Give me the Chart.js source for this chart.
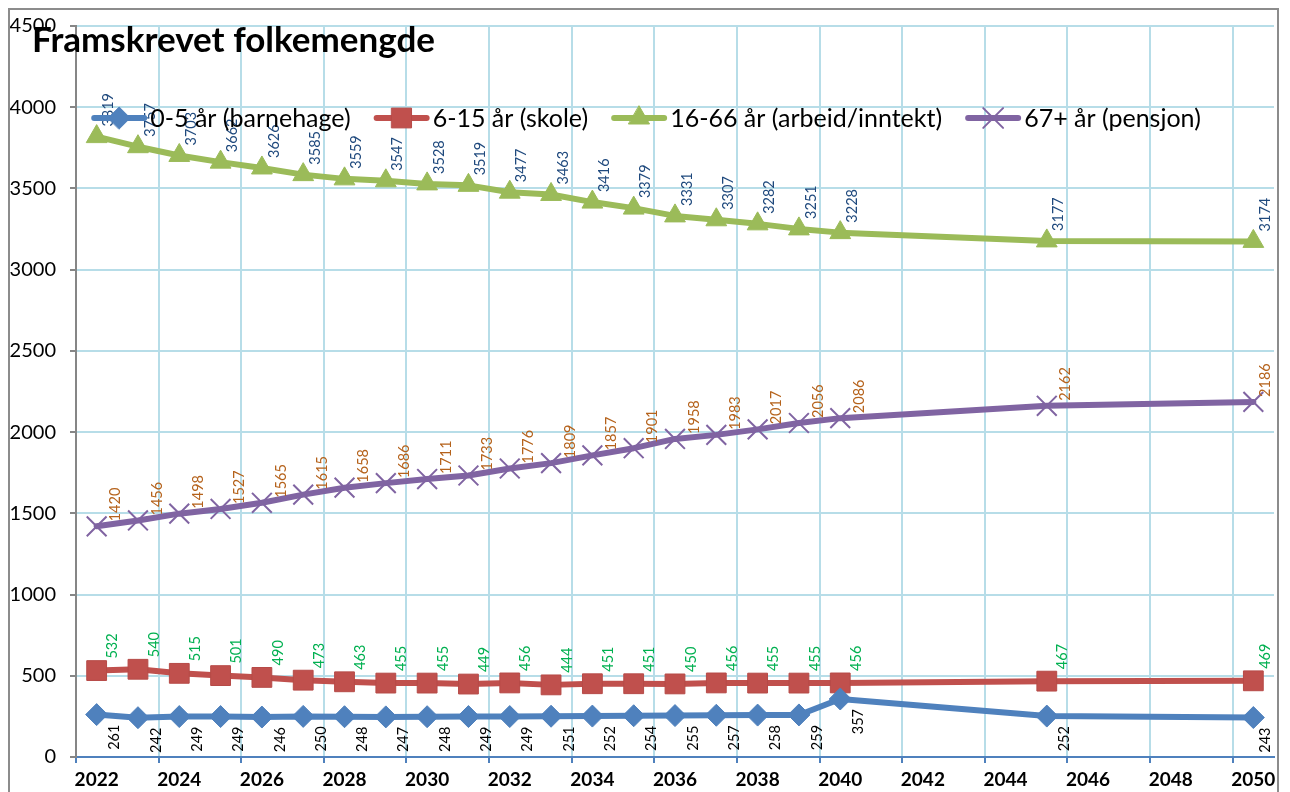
<!DOCTYPE html>
<html>
<head>
<meta charset="utf-8">
<title>Framskrevet folkemengde</title>
<script src="https://cdn.jsdelivr.net/npm/chart.js@4.4.1/dist/chart.umd.min.js"></script>
<style>
  html, body { margin: 0; padding: 0; background: #fff; }
  #wrap { position: relative; width: 1290px; height: 792px; }
</style>
</head>
<body>
<div id="wrap"><canvas id="popChart" width="1290" height="792"></canvas></div>
<script>
// x axis categories (every year, label on every second one)
const axisYears = ['2022', '2023', '2024', '2025', '2026', '2027', '2028', '2029', '2030', '2031',
  '2032', '2033', '2034', '2035', '2036', '2037', '2038', '2039', '2040', '2041',
  '2042', '2043', '2044', '2045', '2046', '2047', '2048', '2049', '2050'];

// years that have data
const years = ['2022', '2023', '2024', '2025', '2026', '2027', '2028', '2029', '2030', '2031',
  '2032', '2033', '2034', '2035', '2036', '2037', '2038', '2039', '2040', '2045', '2050'];

const barnehage = [261, 242, 249, 249, 246, 250, 248, 247, 248, 249, 249, 251, 252, 254, 255, 257, 258, 259, 357, 252, 243];
const skole = [532, 540, 515, 501, 490, 473, 463, 455, 455, 449, 456, 444, 451, 451, 450, 456, 455, 455, 456, 467, 469];
const arbeid = [3819, 3757, 3703, 3662, 3626, 3585, 3559, 3547, 3528, 3519, 3477, 3463, 3416, 3379, 3331, 3307, 3282, 3251, 3228, 3177, 3174];
const pensjon = [1420, 1456, 1498, 1527, 1565, 1615, 1658, 1686, 1711, 1733, 1776, 1809, 1857, 1901, 1958, 1983, 2017, 2056, 2086, 2162, 2186];

const seriesNames = ['0-5 år (barnehage)', '6-15 år (skole)', '16-66 år (arbeid/inntekt)', '67+ år (pensjon)'];
const chartTitle = 'Framskrevet folkemengde';

const yMin = 0;
const yMax = 4500;
const yStep = 500;

const GRID = '#b7dde8';
const FONT = 'Lato, "Open Sans", sans-serif';

function toPoints(values) {
  return years.map((y, i) => ({ x: y, y: values[i] }));
}

const datasets = [
  {
    label: seriesNames[0],
    data: toPoints(barnehage),
    borderColor: '#4f81bd',
    backgroundColor: '#4f81bd',
    pointStyle: 'rectRot',
    pointRadius: 11,
    pointBorderWidth: 1,
    labelColor: '#000000',
    labelDx: 18,
    labelDy: 10,
    labelBelow: true
  },
  {
    label: seriesNames[1],
    data: toPoints(skole),
    borderColor: '#c0504d',
    backgroundColor: '#c0504d',
    pointBorderColor: '#b64a47',
    pointStyle: 'rect',
    pointRadius: 14,
    pointBorderWidth: 1,
    labelColor: '#00b050',
    labelDx: 16,
    labelDy: -12
  },
  {
    label: seriesNames[2],
    data: toPoints(arbeid),
    borderColor: '#9bbb59',
    backgroundColor: '#9bbb59',
    pointStyle: 'triangle',
    pointRadius: 12,
    pointBorderWidth: 1,
    labelColor: '#1f497d',
    labelDx: 12,
    labelDy: -10
  },
  {
    label: seriesNames[3],
    data: toPoints(pensjon),
    borderColor: '#8064a2',
    backgroundColor: '#8064a2',
    pointStyle: 'crossRot',
    pointRadius: 14,
    pointBorderWidth: 2,
    labelColor: '#b5621b',
    labelDx: 19,
    labelDy: -5
  }
];

datasets.forEach(ds => {
  ds.borderWidth = 6;
  ds.tension = 0;
  ds.fill = false;
  ds.borderJoinStyle = 'round';
  ds.borderCapStyle = 'round';
  ds.pointHoverRadius = ds.pointRadius;
});

// vertical value labels next to every point, kept inside the plot
const pointLabels = {
  id: 'pointLabels',
  afterDatasetsDraw(chart) {
    const ctx = chart.ctx;
    const maxX = chart.chartArea.right - 9;
    chart.data.datasets.forEach((ds, di) => {
      const meta = chart.getDatasetMeta(di);
      ctx.save();
      ctx.font = '14.5px ' + FONT;
      ctx.fillStyle = ds.labelColor;
      ctx.textBaseline = 'middle';
      ctx.textAlign = ds.labelBelow ? 'right' : 'left';
      meta.data.forEach((pt, i) => {
        ctx.save();
        ctx.translate(Math.min(pt.x + ds.labelDx, maxX), pt.y + ds.labelDy);
        ctx.rotate(-Math.PI / 2);
        ctx.fillText(String(ds.data[i].y), 0, 0);
        ctx.restore();
      });
      ctx.restore();
    });
  }
};

const frameTitleLegend = {
  id: 'frameTitleLegend',
  beforeDraw(chart) {
    const ctx = chart.ctx;
    ctx.save();
    ctx.fillStyle = '#ffffff';
    ctx.fillRect(0, 0, chart.width, chart.height);
    ctx.restore();
  },
  afterDraw(chart) {
    const ctx = chart.ctx;
    ctx.save();

    // outer frame
    ctx.strokeStyle = '#8c8c8c';
    ctx.lineWidth = 2;
    ctx.beginPath();
    ctx.moveTo(9, chart.height + 5);
    ctx.lineTo(9, 9);
    ctx.lineTo(1278, 9);
    ctx.lineTo(1278, chart.height + 5);
    ctx.stroke();

    // title
    ctx.fillStyle = '#000000';
    ctx.font = 'bold 35px ' + FONT;
    ctx.textAlign = 'left';
    ctx.textBaseline = 'alphabetic';
    ctx.fillText(chartTitle, 32, 52);

    // legend
    const lineLen = 56;
    const textGap = 3;
    const itemGap = 23;
    const legendY = 118;
    ctx.font = '25px ' + FONT;
    const widths = chart.data.datasets.map(ds => ctx.measureText(ds.label).width);
    let total = widths.reduce((a, w) => a + lineLen + textGap + w, 0) + itemGap * (widths.length - 1);
    let x = 646 - total / 2;
    chart.data.datasets.forEach((ds, i) => {
      ctx.strokeStyle = ds.borderColor;
      ctx.lineWidth = 6;
      ctx.lineCap = 'round';
      ctx.beginPath();
      ctx.moveTo(x + 3, legendY);
      ctx.lineTo(x + lineLen - 3, legendY);
      ctx.stroke();

      ctx.fillStyle = ds.backgroundColor;
      ctx.strokeStyle = ds.pointBorderColor || ds.borderColor;
      ctx.lineWidth = ds.pointBorderWidth;
      Chart.helpers.drawPoint(ctx, {
        pointStyle: ds.pointStyle,
        radius: ds.pointRadius,
        borderWidth: ds.pointBorderWidth,
        rotation: 0
      }, x + lineLen / 2, legendY);

      ctx.fillStyle = '#000000';
      ctx.textAlign = 'left';
      ctx.textBaseline = 'middle';
      ctx.fillText(ds.label, x + lineLen + textGap, legendY + 1);
      x += lineLen + textGap + widths[i] + itemGap;
    });

    ctx.restore();
  }
};

const ctx = document.getElementById('popChart').getContext('2d');
const chart = new Chart(ctx, {
  type: 'line',
  data: {
    labels: axisYears,
    datasets: datasets
  },
  options: {
    responsive: false,
    animation: false,
    devicePixelRatio: 1,
    layout: { padding: { top: 20, right: 13, left: 0, bottom: 0 } },
    plugins: {
      legend: { display: false },
      tooltip: { enabled: false },
      title: { display: false }
    },
    scales: {
      x: {
        type: 'category',
        offset: true,
        grid: {
          offset: true,
          lineWidth: 2,
          tickLength: 6,
          color: c => (c.index % 2 === 0 ? GRID : 'rgba(0,0,0,0)'),
          tickColor: c => (c.index % 2 === 0 ? '#4f81bd' : 'rgba(0,0,0,0)')
        },
        border: { color: '#4f81bd', width: 2 },
        ticks: {
          autoSkip: false,
          maxRotation: 0,
          minRotation: 0,
          padding: 5,
          color: '#000000',
          font: { family: FONT, size: 19, weight: 'bold' },
          callback: function (value, index) {
            return index % 2 === 0 ? this.getLabelForValue(value) : '';
          }
        },
        afterFit: scale => { scale.height = 35; }
      },
      y: {
        min: yMin,
        max: yMax,
        grid: {
          color: GRID,
          lineWidth: 2,
          tickLength: 6,
          tickColor: '#868686'
        },
        border: { color: '#868686', width: 2 },
        ticks: {
          stepSize: yStep,
          padding: 14,
          color: '#000000',
          font: { family: FONT, size: 20 },
          callback: value => String(value)
        },
        afterFit: scale => { scale.width = 76; }
      }
    }
  },
  plugins: [pointLabels, frameTitleLegend]
});
</script>
</body>
</html>
